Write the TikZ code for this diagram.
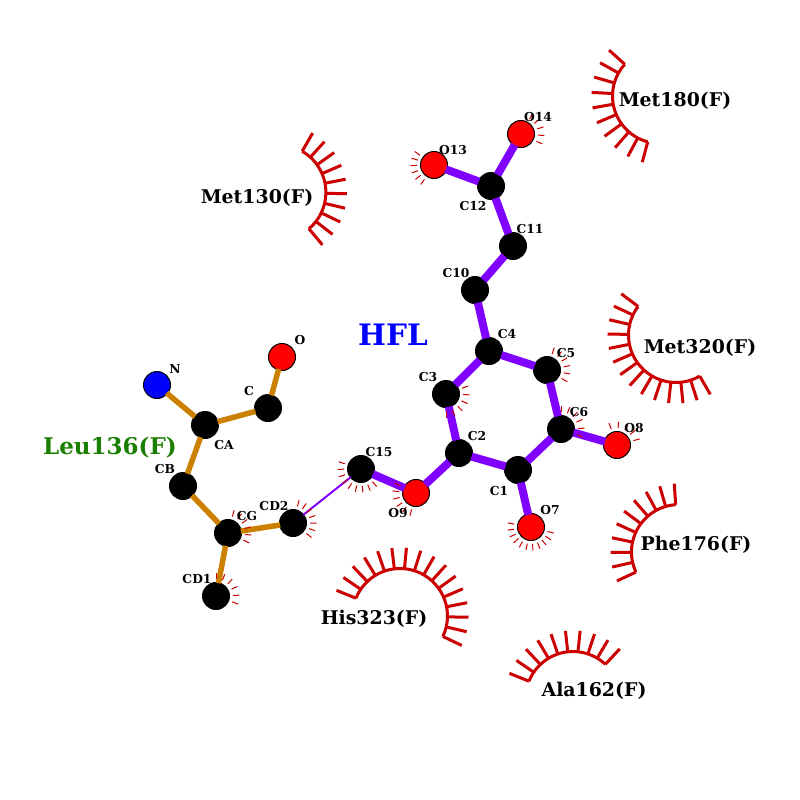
\documentclass[tikz,border=0pt]{standalone}
\usepackage{fontspec}
\setmainfont{DejaVu Serif}
\definecolor{ligbond}{HTML}{7F00FF}
\definecolor{resbond}{HTML}{CC8000}
\definecolor{lashred}{HTML}{CC0000}
\definecolor{resgreen}{HTML}{1A7F00}
\tikzset{
    carbon/.style={circle, fill=black, minimum size=28pt, inner sep=0pt, outer sep=-1pt},
    oxygen/.style={circle, draw=black, line width=1pt, fill=red, minimum size=27pt, inner sep=0pt, outer sep=-1pt},
    nitrogen/.style={oxygen, fill=blue},
    ligline/.style={ligbond, line width=8pt},
    resline/.style={resbond, line width=5.5pt},
    lashline/.style={lashred, line width=3pt},
    tickline/.style={lashred, line width=1pt},
    atomtxt/.style={inner sep=0pt, yshift=-0.5pt, font=\bfseries\fontsize{12.3}{12.3}\selectfont},
    restxt/.style={inner sep=0pt, yshift=-1pt, font=\bfseries\fontsize{18.9}{18.9}\selectfont},
}
% arc of a contact residue: centre, from angle, to angle, number of spokes
\newcommand{\contact}[4]{
    \draw[lashline] (#1) ++(#2:47.5) arc[start angle=#2, end angle=#3, radius=47.5];
    \foreach \k in {1,...,#4} {
        \pgfmathsetmacro{\spoke}{#2+(\k-1)*(#3-#2)/(#4-1)}
        \draw[lashline] (#1) ++(\spoke:47.5) -- ++(\spoke:21);
    }
}
% small ticks round an atom: atom, from angle, to angle, number of ticks
\newcommand{\ticks}[4]{
    \foreach \k in {1,...,#4} {
        \pgfmathsetmacro{\tick}{#2+(\k-1)*(#3-#2)/(#4-1)}
        \draw[tickline] (#1.center) ++(\tick:17) -- ++(\tick:6.5);
    }
}
\begin{document}
\begin{tikzpicture}[x=1pt, y=-1pt]
    \useasboundingbox (0,0) rectangle (800,800);

    % ligand atoms
    \node[oxygen] (O14) at (521,134) {};
    \node[oxygen] (O13) at (434,165) {};
    \node[carbon] (C12) at (491,186) {};
    \node[carbon] (C11) at (513,246) {};
    \node[carbon] (C10) at (475,290) {};
    \node[carbon] (C4) at (489,351) {};
    \node[carbon] (C5) at (547,370) {};
    \node[carbon] (C3) at (446,394) {};
    \node[carbon] (C6) at (561,429) {};
    \node[carbon] (C2) at (459,453) {};
    \node[carbon] (C1) at (518,470) {};
    \node[oxygen] (O8) at (617,445) {};
    \node[oxygen] (O7) at (531,527) {};
    \node[oxygen] (O9) at (416,493) {};
    \node[carbon] (C15) at (361,469) {};

    % residue atoms
    \node[nitrogen] (N) at (157,385) {};
    \node[oxygen] (O) at (282,357) {};
    \node[carbon] (C) at (268,408) {};
    \node[carbon] (CA) at (205,425) {};
    \node[carbon] (CB) at (183,486) {};
    \node[carbon] (CG) at (228,533) {};
    \node[carbon] (CD2) at (293,523) {};
    \node[carbon] (CD1) at (216,596) {};

    \draw[ligline] (O14) -- (C12);
    \draw[ligline] (O13) -- (C12);
    \draw[ligline] (C12) -- (C11);
    \draw[ligline] (C11) -- (C10);
    \draw[ligline] (C10) -- (C4);
    \draw[ligline] (C4) -- (C5);
    \draw[ligline] (C4) -- (C3);
    \draw[ligline] (C5) -- (C6);
    \draw[ligline] (C3) -- (C2);
    \draw[ligline] (C6) -- (C1);
    \draw[ligline] (C2) -- (C1);
    \draw[ligline] (C6) -- (O8);
    \draw[ligline] (C1) -- (O7);
    \draw[ligline] (C2) -- (O9);
    \draw[ligline] (O9) -- (C15);
    \draw[ligbond, line width=2pt] (C15) -- (CD2);

    \draw[resline] (N) -- (CA);
    \draw[resline] (O) -- (C);
    \draw[resline] (C) -- (CA);
    \draw[resline] (CA) -- (CB);
    \draw[resline] (CB) -- (CG);
    \draw[resline] (CG) -- (CD2);
    \draw[resline] (CG) -- (CD1);

    \ticks{O14}{-60}{25}{5}
    \ticks{O13}{124}{215}{6}
    \ticks{C5}{-72}{30}{6}
    \ticks{C6}{-90}{20}{6}
    \ticks{O8}{-110}{-15}{5}
    \ticks{C3}{-20}{90}{6}
    \ticks{O7}{15}{190}{11}
    \ticks{O9}{105}{205}{6}
    \ticks{C15}{48}{198}{9}
    \ticks{CD2}{-75}{38}{7}
    \ticks{CG}{-75}{25}{6}
    \ticks{CD1}{-90}{20}{6}

    \contact{278.4,192.4}{-60}{50}{10}
    \contact{660,96}{105}{222}{10}
    \contact{676,335}{60}{217}{14}
    \contact{679,552}{155}{266}{10}
    \contact{400,616}{25.5}{-158}{16}
    \contact{573,699}{202}{313}{10}

    \node[atomtxt] (tO14) at (538,117) {O14};
    \node[atomtxt] (tO13) at (453,150) {O13};
    \node[atomtxt] (tC12) at (473,206) {C12};
    \node[atomtxt] (tC11) at (530,229) {C11};
    \node[atomtxt] (tC10) at (456,273) {C10};
    \node[atomtxt] (tC4) at (507,334) {C4};
    \node[atomtxt] (tC5) at (566,353) {C5};
    \node[atomtxt] (tC3) at (428,377) {C3};
    \node[atomtxt] (tC6) at (579,412) {C6};
    \node[atomtxt] (tC2) at (477,436) {C2};
    \node[atomtxt] (tC1) at (499,491) {C1};
    \node[atomtxt] (tO8) at (634,428) {O8};
    \node[atomtxt] (tO7) at (550,510) {O7};
    \node[atomtxt] (tO9) at (398,513) {O9};
    \node[atomtxt] (tC15) at (379,452) {C15};
    \node[atomtxt] (tN) at (175,369) {N};
    \node[atomtxt] (tO) at (300,340) {O};
    \node[atomtxt] (tC) at (249,391) {C};
    \node[atomtxt] (tCA) at (224,445) {CA};
    \node[atomtxt] (tCB) at (165,469) {CB};
    \node[atomtxt] (tCG) at (247,516) {CG};
    \node[atomtxt] (tCD2) at (274,506) {CD2};
    \node[atomtxt] (tCD1) at (197,579) {CD1};

    \node[restxt] (met130) at (257,197) {Met130(F)};
    \node[restxt] (met180) at (675,100) {Met180(F)};
    \node[restxt] (met320) at (700,347) {Met320(F)};
    \node[restxt] (phe176) at (696,544) {Phe176(F)};
    \node[restxt] (his323) at (374,618) {His323(F)};
    \node[restxt] (ala162) at (594,690) {Ala162(F)};
    \node[restxt, text=resgreen, font=\bfseries\fontsize{23}{23}\selectfont] (leu136) at (110,447) {Leu136(F)};
    \node[restxt, text=blue, font=\bfseries\fontsize{29.5}{29.5}\selectfont] (hfl) at (393,334) {HFL};
\end{tikzpicture}
\end{document}
